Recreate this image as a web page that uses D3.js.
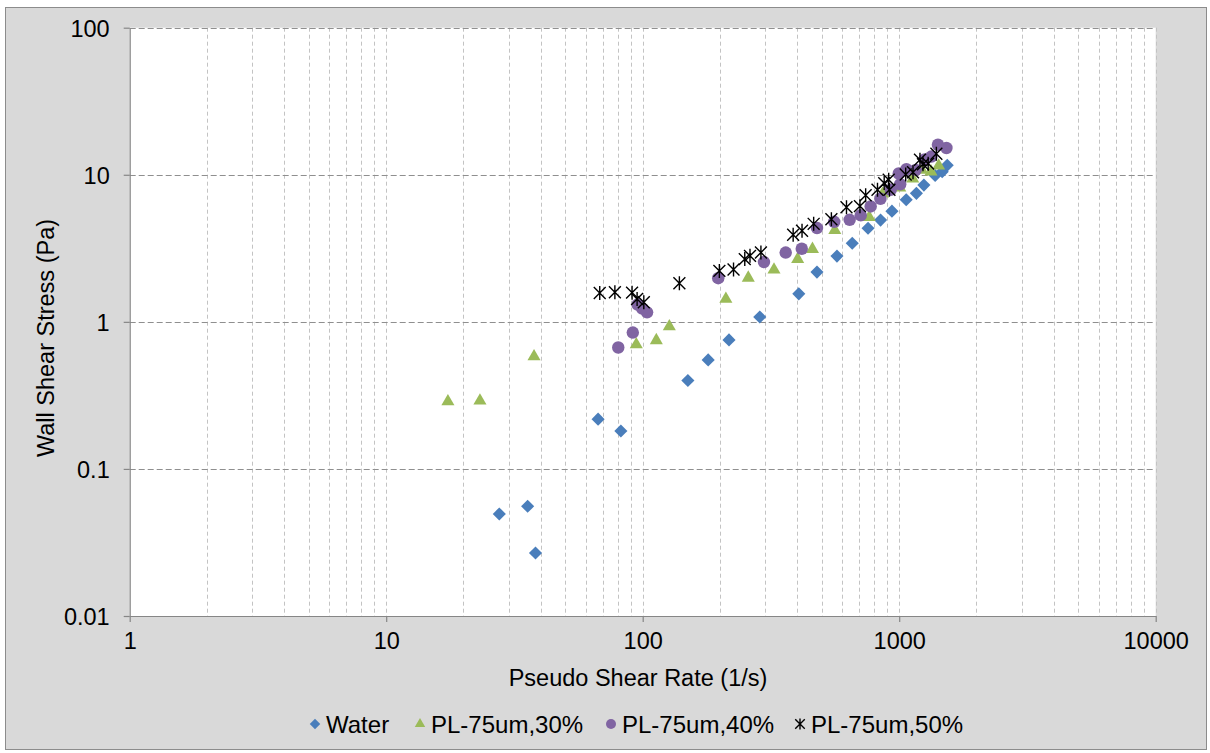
<!DOCTYPE html>
<html>
<head>
<meta charset="utf-8">
<script src="https://cdn.jsdelivr.net/npm/d3@7"></script>
<style>
  html, body { margin: 0; padding: 0; background: #ffffff; }
  svg { display: block; }
  text { font-family: "Liberation Sans", Arial, sans-serif; fill: #000; }
</style>
</head>
<body>
<svg id="chart" width="1210" height="753"></svg>
<script>
// ---- data: pseudo shear rate (1/s) and wall shear stress (Pa) ----
const waterRate = [27.6, 35.6, 38.2, 67.0, 82.2, 150, 180, 217, 286, 406, 478, 572, 656, 756, 846, 937, 1065, 1167, 1248, 1381, 1471, 1539];
const waterStress = [0.0494, 0.0557, 0.0268, 0.218, 0.181, 0.399, 0.551, 0.754, 1.08, 1.55, 2.18, 2.80, 3.42, 4.33, 4.92, 5.66, 6.76, 7.48, 8.51, 9.88, 10.5, 11.6];

const pl30Rate = [17.4, 23.2, 37.7, 94.4, 113, 127, 211, 258, 325, 402, 459, 561, 764, 862, 1005, 1129, 1224, 1330, 1425];
const pl30Stress = [0.287, 0.291, 0.581, 0.701, 0.748, 0.929, 1.43, 1.99, 2.26, 2.67, 3.12, 4.19, 5.14, 7.42, 8.16, 9.39, 10.8, 10.5, 11.5];

const pl40Rate = [80.3, 91.5, 95.5, 99.6, 104, 197, 297, 361, 417, 478, 558, 641, 708, 774, 845, 927, 1009, 996, 1067, 1160, 1257, 1335, 1416, 1528];
const pl40Stress = [0.669, 0.846, 1.31, 1.23, 1.16, 1.98, 2.55, 2.96, 3.14, 4.34, 4.79, 4.94, 5.30, 6.09, 6.87, 7.91, 8.62, 10.2, 10.9, 10.8, 12.7, 13.3, 16.0, 15.2];

const pl50Rate = [68.0, 77.9, 90.9, 95.1, 101, 139, 199, 226, 250, 262, 289, 386, 418, 464, 544, 623, 703, 740, 823, 874, 910, 916, 1060, 1132, 1205, 1238, 1297, 1396];
const pl50Stress = [1.57, 1.59, 1.58, 1.43, 1.36, 1.83, 2.22, 2.27, 2.67, 2.81, 2.96, 3.91, 4.16, 4.64, 4.98, 6.01, 6.12, 7.25, 7.91, 8.78, 9.25, 7.91, 10.05, 10.4, 12.65, 11.8, 11.9, 13.9];

const seriesNames = ["Water", "PL-75um,30%", "PL-75um,40%", "PL-75um,50%"];
const xTickValues = [1, 10, 100, 1000, 10000];
const yTickValues = [0.01, 0.1, 1, 10, 100];
const yTickLabels = ["0.01", "0.1", "1", "10", "100"];
const xTitle = "Pseudo Shear Rate (1/s)";
const yTitle = "Wall Shear Stress (Pa)";

// ---- layout ----
const svg = d3.select("#chart");
const plot = { left: 129.7, right: 1155.7, top: 27.7, bottom: 616 };
const axisGrey = "#868686";
const axisFont = "23.5px";
const legendFont = "24px";

// chart background + frame
svg.append("rect")
  .attr("x", 5.5).attr("y", 7.5).attr("width", 1201).attr("height", 742)
  .attr("fill", "#d9d9d9").attr("stroke", "#8c8c8c").attr("stroke-width", 1);

// plot area
svg.append("rect")
  .attr("x", plot.left).attr("y", plot.top)
  .attr("width", plot.right - plot.left).attr("height", plot.bottom - plot.top)
  .attr("fill", "#ffffff");

const x = d3.scaleLog().domain([1, 10000]).range([plot.left, plot.right]);
const y = d3.scaleLog().domain([0.01, 100]).range([plot.bottom, plot.top]);

// vertical gridlines at every 1..9 x 10^k
const xGrid = [];
for (let p = 0; p < 4; p++) for (let m = 1; m <= 9; m++) {
  const v = m * Math.pow(10, p);
  if (v > 1) xGrid.push(v);
}
xGrid.push(10000);
svg.append("g").selectAll("line").data(xGrid).join("line")
  .attr("x1", d => Math.round(x(d)) + 0.5).attr("x2", d => Math.round(x(d)) + 0.5)
  .attr("y1", plot.top).attr("y2", plot.bottom)
  .attr("stroke", "#c3c3c3").attr("stroke-width", 1)
  .attr("stroke-dasharray", "4,3");

// horizontal gridlines at the decades
svg.append("g").selectAll("line").data(yTickValues.slice(1)).join("line")
  .attr("x1", plot.left).attr("x2", plot.right)
  .attr("y1", d => Math.round(y(d)) + 0.5).attr("y2", d => Math.round(y(d)) + 0.5)
  .attr("stroke", "#8f8f8f").attr("stroke-width", 1)
  .attr("stroke-dasharray", "6,3");

// axes
const xAxis = d3.axisBottom(x).tickValues(xTickValues).tickFormat(d3.format("d"))
  .tickSizeOuter(0).tickSizeInner(6).tickPadding(10);
const yAxis = d3.axisLeft(y).tickValues(yTickValues)
  .tickFormat((d, i) => yTickLabels[i]).tickSizeOuter(0).tickSizeInner(6).tickPadding(14);

const gx = svg.append("g").attr("transform", `translate(0,${plot.bottom})`).call(xAxis);
const gy = svg.append("g").attr("transform", `translate(${plot.left},0)`).call(yAxis);
[gx, gy].forEach(g => {
  g.selectAll("path.domain").attr("stroke", axisGrey).attr("stroke-width", 1.2);
  g.selectAll(".tick line").attr("stroke", axisGrey).attr("stroke-width", 1.2);
  g.selectAll("text").style("font-family", '"Liberation Sans", Arial, sans-serif')
    .style("font-size", axisFont).attr("fill", "#000");
});
gy.selectAll("text").attr("dy", "0.36em");

// axis titles
svg.append("text").attr("x", 638).attr("y", 686)
  .attr("text-anchor", "middle").style("font-size", axisFont).text(xTitle);
svg.append("text").attr("transform", "translate(54,338) rotate(-90)")
  .attr("text-anchor", "middle").style("font-size", axisFont).text(yTitle);

// ---- markers ----
function starPath(r) {
  const a = r * 0.85;
  return `M${-a},${-a}L${a},${a}M${-a},${a}L${a},${-a}M0,${-r}L0,${r}`;
}
const markerDefs = [
  { name: seriesNames[0], xs: waterRate, ys: waterStress, color: "#4a7ebb",
    draw: (sel, s) => sel.append("path").attr("d", d3.symbol(d3.symbolSquare, 86 * s * s)()).attr("transform", "rotate(45)") },
  { name: seriesNames[1], xs: pl30Rate, ys: pl30Stress, color: "#9bbb59",
    draw: (sel, s) => sel.append("path").attr("d", d3.symbol(d3.symbolTriangle, 74 * s * s)()) },
  { name: seriesNames[2], xs: pl40Rate, ys: pl40Stress, color: "#8064a2",
    draw: (sel, s) => sel.append("path").attr("d", d3.symbol(d3.symbolCircle, 122 * s * s)()) },
  { name: seriesNames[3], xs: pl50Rate, ys: pl50Stress, color: "#000000",
    draw: (sel, s) => sel.append("path").attr("d", starPath(7 * s)) }
];

function drawMarker(g, def, s) {
  def.draw(g, s);
  const p = g.select("path");
  if (def.name === seriesNames[3]) {
    p.attr("fill", "none").attr("stroke", def.color).attr("stroke-width", 1.4);
  } else {
    p.attr("fill", def.color).attr("stroke", "none");
  }
}

markerDefs.forEach(def => {
  const pts = def.xs.map((v, i) => [v, def.ys[i]]);
  svg.append("g").selectAll("g").data(pts).join("g")
    .attr("transform", d => `translate(${x(d[0])},${y(d[1])})`)
    .each(function () { drawMarker(d3.select(this), def, 1); });
});

// ---- legend ----
const legendY = 724;
const legendX = [315, 420, 611, 800];
markerDefs.forEach((def, i) => {
  const g = svg.append("g").attr("transform", `translate(${legendX[i]},${legendY})`);
  const m = g.append("g");
  drawMarker(m, def, 0.8);
  g.append("text").attr("x", 11).attr("y", 0).attr("dy", "0.36em")
    .style("font-size", legendFont).text(def.name);
});
</script>
</body>
</html>
